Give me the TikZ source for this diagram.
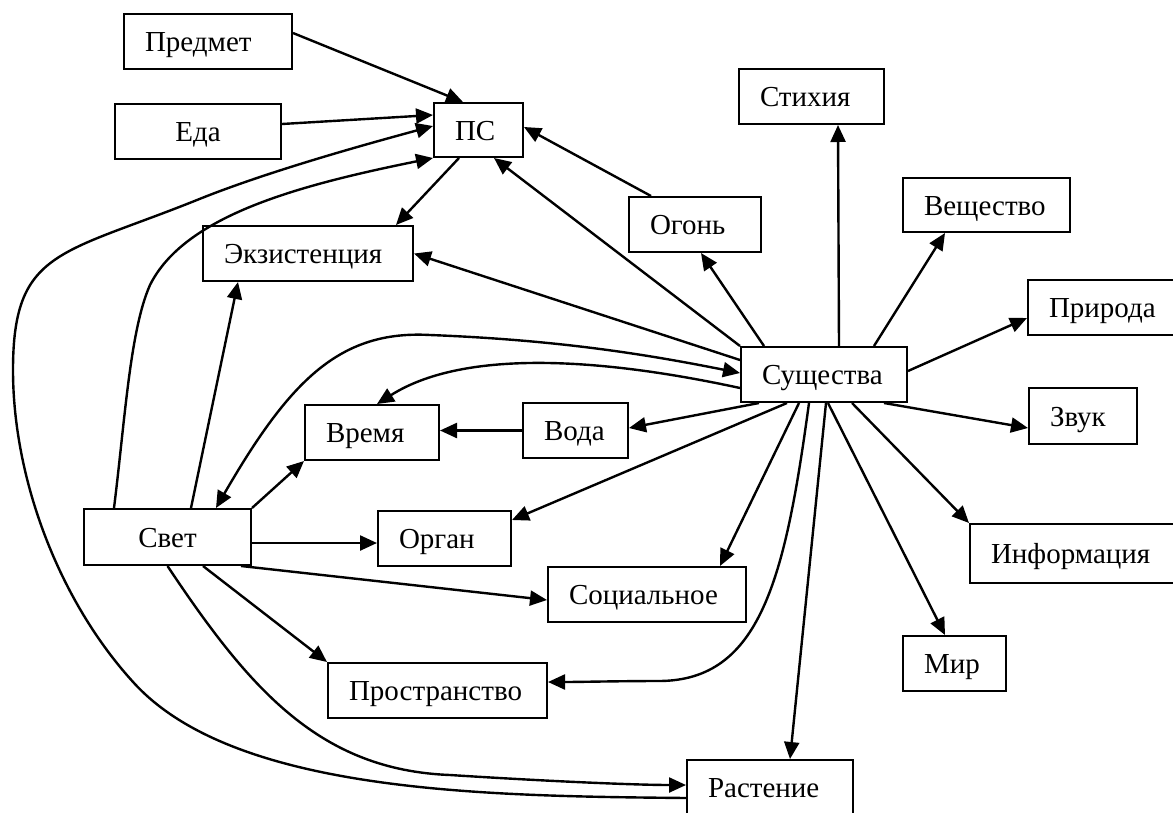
\documentclass[tikz,border=0pt]{standalone}
\usepackage{fontspec}
\setmainfont{Liberation Serif}
\usetikzlibrary{arrows.meta}
\newcommand\boxtxt[2]{\makebox[#1][l]{#2}}
\begin{document}
\begin{tikzpicture}[x=1pt,y=-1pt,
  box/.style={draw, line width=2pt, fill=white, minimum height=55pt, inner xsep=21pt, inner ysep=0pt,
    text height=24pt, text depth=4pt, font=\fontsize{29}{34}\selectfont},
  tip/.tip={Triangle[length=17pt,width=15pt]},
  link/.style={line width=2.4pt, -tip},
  dlink/.style={line width=2.4pt, tip-tip}]
\path[use as bounding box, fill=white] (0,0) rectangle (1173,812);

% nodes
\node[box, minimum width=168pt] (pred) at (208,41.5) {\boxtxt{126pt}{Предмет}};
\node[box, minimum width=166pt] (eda) at (198,131.5) {\makebox[124pt][c]{Еда}};
\node[box, minimum width=89pt, minimum height=54pt] (ps) at (478.5,130) {\boxtxt{47pt}{ПС}};
\node[box, minimum width=210pt] (ekz) at (308,253.5) {\boxtxt{168pt}{Экзистенция}};
\node[box, minimum width=145pt] (stix) at (811.5,96.5) {\boxtxt{103pt}{Стихия}};
\node[box, minimum width=132pt] (ogon) at (695,224.5) {\boxtxt{90pt}{Огонь}};
\node[box, minimum width=167pt, minimum height=54pt] (vesh) at (986.5,205) {\boxtxt{125pt}{Вещество}};
\node[box, minimum width=150pt] (prir) at (1103,307.5) {\boxtxt{108pt}{Природа}};
\node[box, minimum width=166pt] (sush) at (824,374.5) {\boxtxt{124pt}{Существа}};
\node[box, minimum width=134pt] (vrem) at (372,432.5) {\boxtxt{92pt}{Время}};
\node[box, minimum width=105pt] (voda) at (575.5,430.5) {\boxtxt{63pt}{Вода}};
\node[box, minimum width=108pt, minimum height=56pt] (zvuk) at (1083,416) {\boxtxt{66pt}{Звук}};
\node[box, minimum width=167pt, minimum height=56pt] (svet) at (167.5,537) {\makebox[125pt][c]{Свет}};
\node[box, minimum width=133pt] (organ) at (444.5,538.5) {\boxtxt{91pt}{Орган}};
\node[box, minimum width=206pt, minimum height=59pt] (info) at (1073,553.5) {\boxtxt{164pt}{Информация}};
\node[box, minimum width=198pt] (soc) at (647,594.5) {\boxtxt{156pt}{Социальное}};
\node[box, minimum width=103pt] (mir) at (954.5,663.5) {\boxtxt{61pt}{Мир}};
\node[box, minimum width=219pt] (prost) at (437.5,690.5) {\boxtxt{177pt}{Пространство}};
\node[box, minimum width=166pt] (rast) at (770,787.5) {\boxtxt{124pt}{Растение}};

% connectors into ПС
\draw[link] ([yshift=8.5pt]pred.east) -- ([xshift=-15.5pt]ps.north);
\draw[link] ([yshift=7.5pt]eda.east) -- ([yshift=15pt]ps.west);
\draw[link] ([xshift=31pt]svet.north west) .. controls (125,420) and (130,330) .. (150,285)
  .. controls (185,215) and (300,185) .. (ps.south west);
\draw[link] ([yshift=-10.5pt]rast.west) .. controls (487,796) and (235,793.5) .. (134,683)
  .. controls (59.6,601.9) and (13,480) .. (13,370)
  .. controls (13,250) and (60,255) .. (197,200)
  .. controls (271,170) and (376,141.6) .. ([yshift=4pt]ps.west);
\draw[link] (sush.north west) -- ([xshift=15.5pt]ps.south);
\draw[link] ([xshift=23pt]ogon.north west) -- ([yshift=3pt]ps.east);

% Свет
\draw[link] (svet.south) .. controls (250,690) and (320,770) .. (450,775)
  .. controls (560,782) and (640,785) .. ([yshift=2.5pt]rast.west);
\draw[dlink] ([xshift=48.5pt]svet.north) .. controls (290,380) and (340,330) .. (430,335)
  .. controls (560,340) and (650,355) .. ([yshift=1.5pt]sush.west);
\draw[link] (svet.north east) -- (vrem.south west);
\draw[link] ([yshift=-6pt]svet.east) -- ([yshift=-4.5pt]organ.west);
\draw[link] ([xshift=-11pt]svet.south east) -- ([yshift=-5.5pt]soc.west);
\draw[link] ([xshift=35.5pt]svet.south) -- (prost.north west);
\draw[link] ([xshift=23.5pt]svet.north) -- ([xshift=36pt]ekz.south west);

% Существа
\draw[link] ([yshift=-13.5pt]sush.west) .. controls (620,362) and (470,345) .. ([xshift=5pt]vrem.north);
\draw[link] (voda.west) -- (voda.west -| vrem.east);
\draw[link] ([xshift=19pt]sush.south west) -- ([yshift=2.5pt]voda.east);
\draw[link] ([xshift=47pt]sush.south west) -- ([yshift=18.5pt]organ.east);
\draw[link] ([xshift=59pt]sush.south west) -- ([xshift=73pt]soc.north);
\draw[link] ([xshift=69pt]sush.south west) .. controls (785,580) and (760,680) .. (660,681)
  .. controls (620,681) and (580,682) .. ([yshift=8.5pt]prost.east);
\draw[link] ([xshift=2pt]sush.south) -- ([xshift=20pt]rast.north);
\draw[link] ([xshift=4pt]sush.south) -- ([xshift=-9.5pt]mir.north);
\draw[link] ([xshift=28pt]sush.south) -- (info.north west);
\draw[link] ([xshift=-24pt]sush.south east) -- ([yshift=-12pt]zvuk.west);
\draw[link] ([yshift=3.5pt]sush.east) -- ([yshift=-10.5pt]prir.west);
\draw[link] ([xshift=50pt]sush.north) -- ([xshift=-41.5pt]vesh.south);
\draw[link] ([xshift=15pt]sush.north) -- ([xshift=26.5pt]stix.south);
\draw[link] ([xshift=24pt]sush.north west) -- ([xshift=6pt]ogon.south);
\draw[link] ([yshift=14.5pt]sush.west) -- (ekz.east);
\draw[link] ([xshift=-19.5pt]ps.south) -- ([xshift=88pt]ekz.north);
\end{tikzpicture}
\end{document}
